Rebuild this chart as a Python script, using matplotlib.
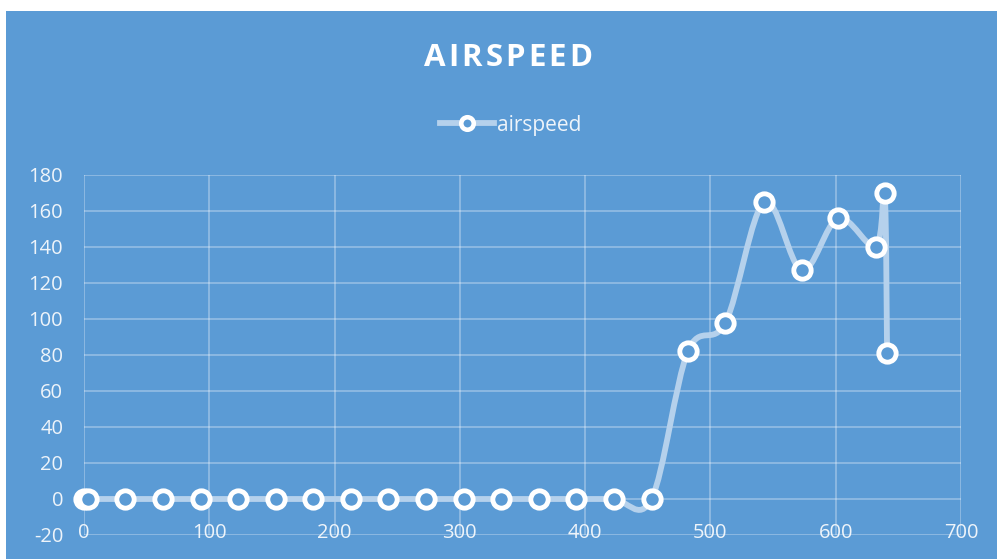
import matplotlib
matplotlib.use("Agg")
import matplotlib.pyplot as plt
from matplotlib.path import Path
from matplotlib.patches import PathPatch, Rectangle
from matplotlib.lines import Line2D
import numpy as np

plt.rcParams["axes.unicode_minus"] = False

# Airspeed samples (time, airspeed)
time_s = [0, 3, 33, 63, 93, 123, 153, 183, 213, 243, 273, 303, 333, 363, 393, 423, 453,
          482, 512, 543, 573, 602, 632, 639, 641]
airspeed = [0, 0, 0, 0, 0, 0, 0, 0, 0, 0, 0, 0, 0, 0, 0, 0, 0,
            82, 98, 165, 127, 156, 140, 170, 81]

x_ticks = [0, 100, 200, 300, 400, 500, 600, 700]
y_ticks = [-20, 0, 20, 40, 60, 80, 100, 120, 140, 160, 180]

TITLE = "AIRSPEED"
SERIES = "airspeed"

BG = "#5B9BD5"
LINE = "#B5D1EC"
TXT = "#EEF4FA"
FONT = "Open Sans"


def smooth_path(xs, ys):
    """Catmull-Rom style Bezier curve through the points."""
    pts = np.column_stack([xs, ys]).astype(float)
    n = len(pts)
    verts = [pts[0]]
    codes = [Path.MOVETO]
    for i in range(n - 1):
        p0 = pts[i - 1] if i > 0 else pts[i]
        p1 = pts[i]
        p2 = pts[i + 1]
        p3 = pts[i + 2] if i + 2 < n else pts[i + 1]
        c1 = p1 + (p2 - p0) / 6.0
        c2 = p2 - (p3 - p1) / 6.0
        verts += [c1, c2, p2]
        codes += [Path.CURVE4] * 3
    return Path(verts, codes)


def spaced_text(fig, text, cx, cy, spacing_px, **kw):
    """Draw text centred at (cx, cy) in figure pixels with extra letter spacing."""
    renderer = fig.canvas.get_renderer()
    probe = fig.text(0, 0, "", **kw)
    widths = []
    for ch in text:
        probe.set_text(ch)
        widths.append(probe.get_window_extent(renderer).width)
    probe.remove()
    total = sum(widths) + spacing_px * (len(text) - 1)
    x = cx - total / 2
    H = fig.bbox.height
    for ch, w in zip(text, widths):
        fig.text(x / fig.bbox.width, 1 - cy / H, ch, ha="left", va="center", **kw)
        x += w + spacing_px


fig = plt.figure(figsize=(9.97, 5.59), dpi=100)
fig.patch.set_facecolor("white")
fig.patches.append(Rectangle((6 / 997, 0), 1, 1 - 11 / 559, transform=fig.transFigure,
                             facecolor=BG, edgecolor="none", zorder=-10))

ax = fig.add_axes([84 / 997, 1 - 535 / 559, (961 - 84) / 997, (535 - 175) / 559])
ax.patch.set_visible(False)
ax.set_xlim(0, 700)
ax.set_ylim(-20, 180)
ax.set_xticks(x_ticks)
ax.set_yticks(y_ticks)
for s in ax.spines.values():
    s.set_visible(False)
ax.grid(True, color="white", alpha=0.32, linewidth=1.3)
ax.set_axisbelow(True)
ax.tick_params(length=0, labelcolor=TXT, labelsize=14.5)
ax.tick_params(axis="y", pad=15)
ax.tick_params(axis="x", pad=-8.5)
for lab in ax.get_xticklabels() + ax.get_yticklabels():
    lab.set_fontfamily(FONT)

curve = PathPatch(smooth_path(time_s, airspeed), facecolor="none", edgecolor=LINE,
                  linewidth=4.2, capstyle="round", joinstyle="round", zorder=3)
ax.add_patch(curve)
ax.plot(time_s, airspeed, linestyle="none", marker="o", markersize=12.5,
        markerfacecolor=BG, markeredgecolor="white", markeredgewidth=3.5, zorder=4,
        clip_on=False)

spaced_text(fig, TITLE, 508, 58, 3.0, color="white", fontsize=22.5,
            fontweight="bold", fontfamily=FONT)

handle = Line2D([], [], color=LINE, linewidth=4.2, marker="o", markersize=9,
                markerfacecolor=BG, markeredgecolor="white", markeredgewidth=3.3)
leg = fig.legend([handle], [SERIES], loc="center", bbox_to_anchor=(511 / 997, 1 - 125 / 559),
                 frameon=False, handlelength=2.6, handletextpad=0.15,
                 prop={"family": FONT, "size": 15})
for t in leg.get_texts():
    t.set_color(TXT)

fig.savefig("out.png", dpi=100, facecolor=fig.get_facecolor())
